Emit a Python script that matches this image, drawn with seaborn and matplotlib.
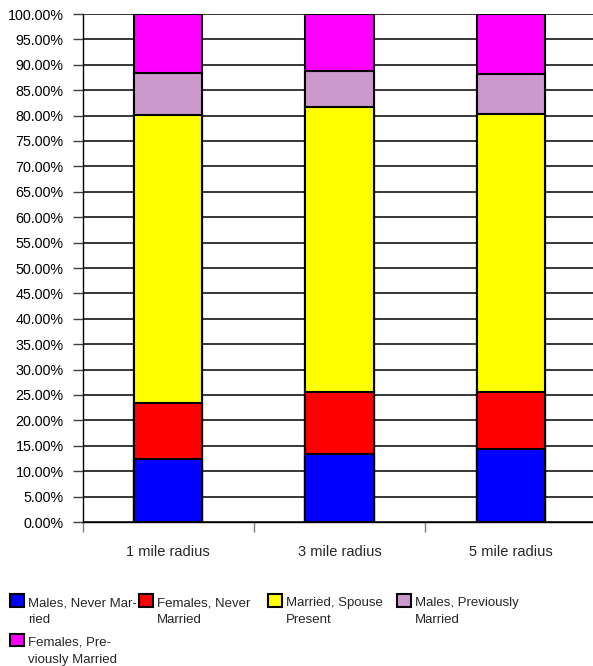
import numpy as np
import pandas as pd
import matplotlib.pyplot as plt
import seaborn as sns
from matplotlib.patches import Patch, Rectangle
from matplotlib.legend_handler import HandlerPatch
from matplotlib.ticker import FixedLocator, PercentFormatter

# data (percent of population)
radius = ["1 mile radius", "3 mile radius", "5 mile radius"]
males_never = [12.4, 13.4, 14.3]
females_never = [11.1, 12.2, 11.3]
married_spouse = [56.6, 56.0, 54.8]
males_prev = [8.2, 7.2, 7.8]
females_prev = [11.7, 11.2, 11.8]

series_labels = ["Males, Never Mar-\nried", "Females, Never\nMarried",
                 "Married, Spouse\nPresent", "Males, Previously\nMarried",
                 "Females, Pre-\nviously Married"]
colors = ["#0000FF", "#FF0000", "#FFFF00", "#CC99CC", "#FF00FF"]

sns.set_style("white")
plt.rcParams['font.family'] = ['Liberation Sans', 'DejaVu Sans']
plt.rcParams['font.size'] = 9.5

df = pd.DataFrame({"radius": radius, "s0": males_never, "s1": females_never,
                   "s2": married_spouse, "s3": males_prev, "s4": females_prev})
cols = ["s0", "s1", "s2", "s3", "s4"]
cum = df[cols].cumsum(axis=1)

fig = plt.figure(figsize=(5.93, 6.66), dpi=100)
ax = fig.add_axes([82.5 / 593, 144 / 666, 514 / 593, 508 / 666])

# stacked bars: draw cumulative totals from the top down
for i in reversed(range(len(cols))):
    sns.barplot(x=df["radius"], y=cum[cols[i]], color=colors[i], saturation=1,
                edgecolor="black", linewidth=1.5, width=0.4, errorbar=None, ax=ax)

ax.set_xlim(-0.5, 2.5)
ax.set_ylim(0, 100)
ax.set_axisbelow(True)
ax.yaxis.set_major_locator(FixedLocator(np.arange(0, 100.1, 5)))
ax.yaxis.set_major_formatter(PercentFormatter(decimals=2))
ax.grid(axis="y", color="black", linewidth=1.1)
ax.grid(axis="x", visible=False)
ax.set_xlabel("")
ax.set_ylabel("")
for s in ["top", "right"]:
    ax.spines[s].set_visible(False)
ax.spines["left"].set_color("black")
ax.spines["bottom"].set_color("black")
ax.spines["left"].set_linewidth(1.0)
ax.spines["bottom"].set_linewidth(1.0)

ax.tick_params(axis="y", left=True, length=7, width=1.0, color="#404040", pad=6.5,
               labelsize=10.3, labelcolor="black")
ax.tick_params(axis="x", which="major", bottom=False, length=0, pad=16.5, labelsize=10.5)
ax.xaxis.set_minor_locator(FixedLocator([-0.5, 0.5, 1.5, 2.5]))
ax.tick_params(axis="x", which="minor", bottom=True, length=7, width=1.0, color="#808080")


# legend square sits beside the first line of each two-line label
def top_aligned(legend, orig_handle, xdescent, ydescent, width, height, fontsize):
    return Rectangle((-xdescent, -ydescent + fontsize * 0.85), width, height)


handles = [Patch(facecolor=c, edgecolor="black", linewidth=1.5) for c in colors]
groups = [[0, 4], [1], [2], [3]]
for k, g in enumerate(groups):
    leg = fig.legend([handles[j] for j in g], [series_labels[j] for j in g],
                     loc="upper left", bbox_to_anchor=((10 + k * 129) / 593, 1 - 597 / 666),
                     frameon=False, borderpad=0, borderaxespad=0, handlelength=1.05,
                     handleheight=1.05, handletextpad=0.3, labelspacing=0.75,
                     handler_map={Patch: HandlerPatch(patch_func=top_aligned)})
    for t in leg.get_texts():
        t.set_linespacing(1.6)

fig.savefig("out.png", dpi=100)
